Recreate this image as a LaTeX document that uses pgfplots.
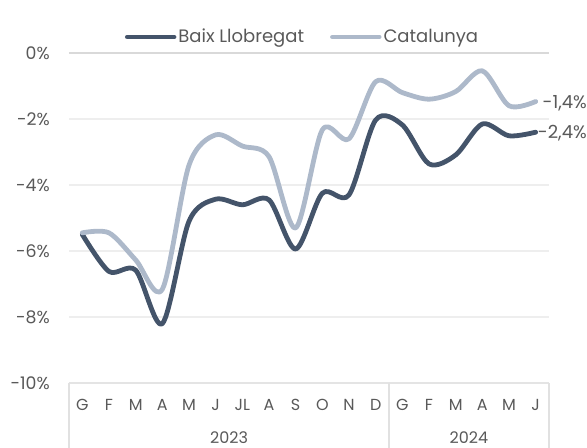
\documentclass[border=0pt]{standalone}
\usepackage{fontspec}
\setmainfont{Poppins}
\usepackage{pgfplots}
\pgfplotsset{compat=1.18}
\definecolor{baix}{HTML}{44546A}
\definecolor{cat}{HTML}{ADB9CA}
\definecolor{txt}{HTML}{595959}
\definecolor{gridc}{HTML}{EEEEEE}
\definecolor{sepc}{HTML}{D9D9D9}

\pgfplotstableread{
x y
0 -5.50
1 -6.62
2 -6.58
3 -8.20
4 -5.10
5 -4.43
6 -4.60
7 -4.45
8 -5.94
9 -4.25
10 -4.30
11 -2.03
12 -2.18
13 -3.36
14 -3.09
15 -2.15
16 -2.51
17 -2.40
}\baixdata

\pgfplotstableread{
x y
0 -5.45
1 -5.45
2 -6.27
3 -7.16
4 -3.40
5 -2.48
6 -2.82
7 -3.14
8 -5.30
9 -2.33
10 -2.60
11 -0.87
12 -1.20
13 -1.40
14 -1.17
15 -0.54
16 -1.60
17 -1.47
}\catdata

\begin{document}
\begin{tikzpicture}
\useasboundingbox (-51.75pt,-48.75pt) rectangle (388.5pt,287.25pt);
\begin{axis}[
  scale only axis,
  width=360pt,
  height=247.5pt,
  xmin=-0.5, xmax=17.5,
  ymin=-10, ymax=0,
  clip=false,
  axis line style={draw=none},
  tick style={draw=none},
  xtick={0,...,17},
  xticklabels={G,F,M,A,M,J,JL,A,S,O,N,D,G,F,M,A,M,J},
  ytick={-10,-8,-6,-4,-2,0},
  yticklabels={-10\%,-8\%,-6\%,-4\%,-2\%,0\%},
  ymajorgrids,
  major grid style={gridc, line width=0.8pt},
  x tick label style={font=\fontsize{12}{14}\selectfont, text=txt, anchor=base, inner sep=0pt, yshift=-20.6pt},
  y tick label style={font=\fontsize{13}{15}\selectfont, text=txt, anchor=east, inner sep=0pt, xshift=-14.25pt},
  legend columns=2,
  legend style={at={(0.4865,1.0485)}, anchor=center, draw=none, fill=none,
    font=\fontsize{13.5}{15}\selectfont, text=txt,
    /tikz/every even column/.append style={column sep=18pt},
    nodes={inner sep=1.5pt}},
  legend image code/.code={\draw[#1, line cap=round] (0pt,0pt) -- (35pt,0pt);},
]
\draw[sepc, line width=0.8pt] (axis cs:-0.5,0) -- (axis cs:17.5,0);
\draw[sepc!70, line width=0.8pt] (axis cs:-0.5,-10) -- (axis cs:17.5,-10);
\draw[sepc!80, line width=0.8pt] (axis cs:-0.5,-10) -- ([yshift=-48.75pt]axis cs:-0.5,-10);
\draw[sepc!80, line width=0.8pt] (axis cs:11.5,-10) -- ([yshift=-48.75pt]axis cs:11.5,-10);
\draw[sepc!80, line width=0.8pt] (axis cs:17.5,-10) -- ([yshift=-48.75pt]axis cs:17.5,-10);
\addplot[baix, line width=3.6pt, smooth, line cap=round, line join=round] table {\baixdata};
\addlegendentry{Baix Llobregat}
\addplot[cat, line width=3.6pt, smooth, line cap=round, line join=round] table {\catdata};
\addlegendentry{Catalunya}
\node[anchor=west, inner sep=0pt, xshift=5pt, text=txt, font=\fontsize{13.5}{15}\selectfont] at (axis cs:17,-1.52) {-1,4\%};
\node[anchor=west, inner sep=0pt, xshift=1.5pt, text=txt, font=\fontsize{13.5}{15}\selectfont] at (axis cs:17,-2.42) {-2,4\%};
\node[anchor=base, inner sep=0pt, text=txt, font=\fontsize{12}{14}\selectfont] at ([yshift=-45.5pt]axis cs:5.5,-10) {2023};
\node[anchor=base, inner sep=0pt, text=txt, font=\fontsize{12}{14}\selectfont] at ([yshift=-45.5pt]axis cs:14.5,-10) {2024};
\end{axis}
\end{tikzpicture}
\end{document}
